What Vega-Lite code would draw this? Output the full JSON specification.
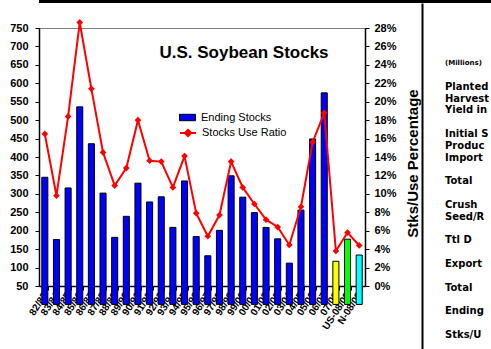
{
  "$schema": "https://vega.github.io/schema/vega-lite/v6.json",
  "padding": 0,
  "background": "white",
  "spacing": 0,
  "config": {
    "font": "Liberation Sans",
    "view": {"stroke": null},
    "axis": {"labelColor": "black", "titleColor": "black", "domainColor": "black", "tickColor": "black", "grid": false, "labelFont": "Liberation Sans", "titleFont": "Liberation Sans"}
  },
  "hconcat": [
    {
      "spacing": 0,
      "vconcat": [
        {
          "width": 383,
          "height": 3,
          "data": {"values": [{"frame": "top"}]},
          "mark": {"type": "rect", "color": "black"},
          "encoding": {}
        },
        {
          "width": 326,
          "height": 258,
          "view": {"stroke": "#808080", "strokeWidth": 1},
          "title": {"text": "U.S. Soybean Stocks", "font": "Liberation Sans", "fontSize": 17, "fontWeight": "bold", "color": "black", "anchor": "middle", "frame": "group", "baseline": "alphabetic", "offset": -71, "dx": 42},
          "data": {"values": [
            {"year": "82/83", "stocks": 345, "ratio": 16.5, "series": "Ending Stocks"},
            {"year": "83/84", "stocks": 176, "ratio": 9.8, "series": "Ending Stocks"},
            {"year": "84/85", "stocks": 316, "ratio": 18.4, "series": "Ending Stocks"},
            {"year": "85/86", "stocks": 536, "ratio": 28.6, "series": "Ending Stocks"},
            {"year": "86/87", "stocks": 436, "ratio": 21.4, "series": "Ending Stocks"},
            {"year": "87/88", "stocks": 302, "ratio": 14.5, "series": "Ending Stocks"},
            {"year": "88/89", "stocks": 182, "ratio": 10.9, "series": "Ending Stocks"},
            {"year": "89/90", "stocks": 239, "ratio": 12.8, "series": "Ending Stocks"},
            {"year": "90/91", "stocks": 329, "ratio": 18.0, "series": "Ending Stocks"},
            {"year": "91/92", "stocks": 278, "ratio": 13.6, "series": "Ending Stocks"},
            {"year": "92/93", "stocks": 292, "ratio": 13.5, "series": "Ending Stocks"},
            {"year": "93/94", "stocks": 209, "ratio": 10.7, "series": "Ending Stocks"},
            {"year": "94/95", "stocks": 335, "ratio": 14.1, "series": "Ending Stocks"},
            {"year": "95/96", "stocks": 184, "ratio": 7.9, "series": "Ending Stocks"},
            {"year": "96/97", "stocks": 132, "ratio": 5.4, "series": "Ending Stocks"},
            {"year": "97/98", "stocks": 201, "ratio": 7.7, "series": "Ending Stocks"},
            {"year": "98/99", "stocks": 349, "ratio": 13.5, "series": "Ending Stocks"},
            {"year": "99/00", "stocks": 291, "ratio": 10.7, "series": "Ending Stocks"},
            {"year": "00/01", "stocks": 249, "ratio": 8.9, "series": "Ending Stocks"},
            {"year": "01/02", "stocks": 209, "ratio": 7.2, "series": "Ending Stocks"},
            {"year": "02/03", "stocks": 178, "ratio": 6.4, "series": "Ending Stocks"},
            {"year": "03/04", "stocks": 112, "ratio": 4.45, "series": "Ending Stocks"},
            {"year": "04/05", "stocks": 256, "ratio": 8.6, "series": "Ending Stocks"},
            {"year": "05/06", "stocks": 449, "ratio": 15.6, "series": "Ending Stocks"},
            {"year": "06/07", "stocks": 574, "ratio": 18.8, "series": "Ending Stocks"},
            {"year": "07/08", "stocks": 117, "ratio": 3.8, "series": "07/08 Estimate"},
            {"year": "US-08/09", "stocks": 177, "ratio": 5.8, "series": "USDA 08/09 Projection"},
            {"year": "N-08/09", "stocks": 134, "ratio": 4.4, "series": "N 08/09 Projection"}
          ]},
          "layer": [
            {
              "mark": {"type": "bar", "stroke": "black", "strokeWidth": 1},
              "encoding": {
                "x": {"field": "year", "type": "nominal", "sort": null,
                      "scale": {"paddingInner": 0.48, "paddingOuter": 0.24},
                      "axis": {"orient": "bottom", "title": null, "labelAngle": -57, "labelFontSize": 10, "labelFontWeight": "bold", "labelOverlap": false, "tickSize": 4, "tickBand": "extent", "labelPadding": 3, "domainWidth": 1.5}},
                "y": {"field": "stocks", "type": "quantitative",
                      "scale": {"domain": [50, 750], "nice": false, "zero": false},
                      "axis": {"orient": "left", "title": null, "values": [50,100,150,200,250,300,350,400,450,500,550,600,650,700,750], "labelFontSize": 11, "labelFontWeight": "bold", "tickSize": 4, "labelPadding": 7, "minExtent": 38, "maxExtent": 38, "domainWidth": 1.5}},
                "fill": {"field": "series", "type": "nominal",
                         "scale": {"domain": ["Ending Stocks", "07/08 Estimate", "USDA 08/09 Projection", "N 08/09 Projection"], "range": ["#0000FF", "#FFFF00", "#00FF00", "#00FFFF"]},
                         "legend": {"values": ["Ending Stocks"], "orient": "none", "legendX": 140, "legendY": 109, "title": null, "padding": 0, "symbolType": "M-1,-0.4H1V0.4H-1Z", "symbolSize": 256, "symbolStrokeColor": "black", "symbolStrokeWidth": 1, "labelFont": "Liberation Sans", "labelFontSize": 11, "labelColor": "black", "labelOffset": 5}}
              }
            },
            {
              "mark": {"type": "line", "color": "#FF0000", "strokeWidth": 2, "point": {"filled": true, "shape": "diamond", "size": 45, "color": "#FF0000"}},
              "encoding": {
                "x": {"field": "year", "type": "nominal", "sort": null,
                      "axis": {"orient": "top", "title": null, "labels": false, "ticks": false, "domain": false, "minExtent": 24, "maxExtent": 24}},
                "y": {"field": "ratio", "type": "quantitative",
                      "scale": {"domain": [0, 28], "nice": false},
                      "axis": {"orient": "right", "title": "Stks/Use Percentage", "titleFontSize": 15, "titleFontWeight": "bold", "titleAngle": 270, "titleBaseline": "top", "titlePadding": 9, "titleY": 135, "values": [0,2,4,6,8,10,12,14,16,18,20,22,24,26,28], "labelExpr": "datum.value + '%'", "labelFontSize": 11, "labelFontWeight": "bold", "tickSize": 4, "labelPadding": 5, "minExtent": 31, "maxExtent": 31, "domainWidth": 1.5}},
                "color": {"datum": "Stocks Use Ratio",
                          "scale": {"domain": ["Stocks Use Ratio"], "range": ["#FF0000"]},
                          "legend": {"orient": "none", "legendX": 140, "legendY": 124, "title": null, "padding": 0, "symbolType": "M-1,0H1M0,-0.4L0.4,0L0,0.4L-0.4,0Z", "symbolSize": 256, "symbolStrokeWidth": 2, "symbolFillColor": "#FF0000", "symbolStrokeColor": "#FF0000", "labelFont": "Liberation Sans", "labelFontSize": 11, "labelColor": "black", "labelOffset": 5}}
              }
            }
          ],
          "resolve": {"scale": {"y": "independent"}, "axis": {"x": "independent", "y": "independent"}}
        }
      ]
    },
    {
      "spacing": 0,
      "vconcat": [
        {
          "width": 69,
          "height": 3,
          "data": {"values": [{"frame": "top"}]},
          "mark": {"type": "rect", "color": "black"},
          "encoding": {}
        },
        {
          "width": 69,
          "height": 346,
          "view": {"stroke": null},
          "data": {"values": [
            {"line": 0, "label": "(Millions)", "kind": "header"},
            {"line": 2, "label": "Planted", "kind": "item"},
            {"line": 3, "label": "Harvest", "kind": "item"},
            {"line": 4, "label": "Yield in", "kind": "item"},
            {"line": 6, "label": "Initial S", "kind": "item"},
            {"line": 7, "label": "Produc", "kind": "item"},
            {"line": 8, "label": "Import", "kind": "item"},
            {"line": 10, "label": "\u00a0\u00a0\u00a0Total", "kind": "total"},
            {"line": 12, "label": "Crush", "kind": "item"},
            {"line": 13, "label": "Seed/R", "kind": "item"},
            {"line": 15, "label": "\u00a0\u00a0\u00a0Ttl D", "kind": "total"},
            {"line": 17, "label": "Export", "kind": "item"},
            {"line": 19, "label": "\u00a0\u00a0\u00a0Total", "kind": "total"},
            {"line": 21, "label": "Ending", "kind": "item"},
            {"line": 23, "label": "Stks/U", "kind": "item"}
          ]},
          "mark": {"type": "text", "align": "left", "baseline": "middle", "font": "DejaVu Sans", "fontWeight": "bold", "color": "black", "clip": true, "dx": -11.5},
          "encoding": {
            "y": {"field": "line", "type": "quantitative",
                  "scale": {"domain": [-5.1, 24.2], "reverse": true, "nice": false, "zero": false},
                  "axis": {"orient": "left", "domain": true, "domainColor": "black", "domainWidth": 2, "labels": false, "ticks": false, "grid": false, "title": null}},
            "text": {"field": "label"},
            "size": {"field": "kind", "type": "nominal", "scale": {"type": "ordinal", "domain": ["header", "item", "total"], "range": [7, 10, 10]}, "legend": null}
          }
        }
      ]
    }
  ]
}
